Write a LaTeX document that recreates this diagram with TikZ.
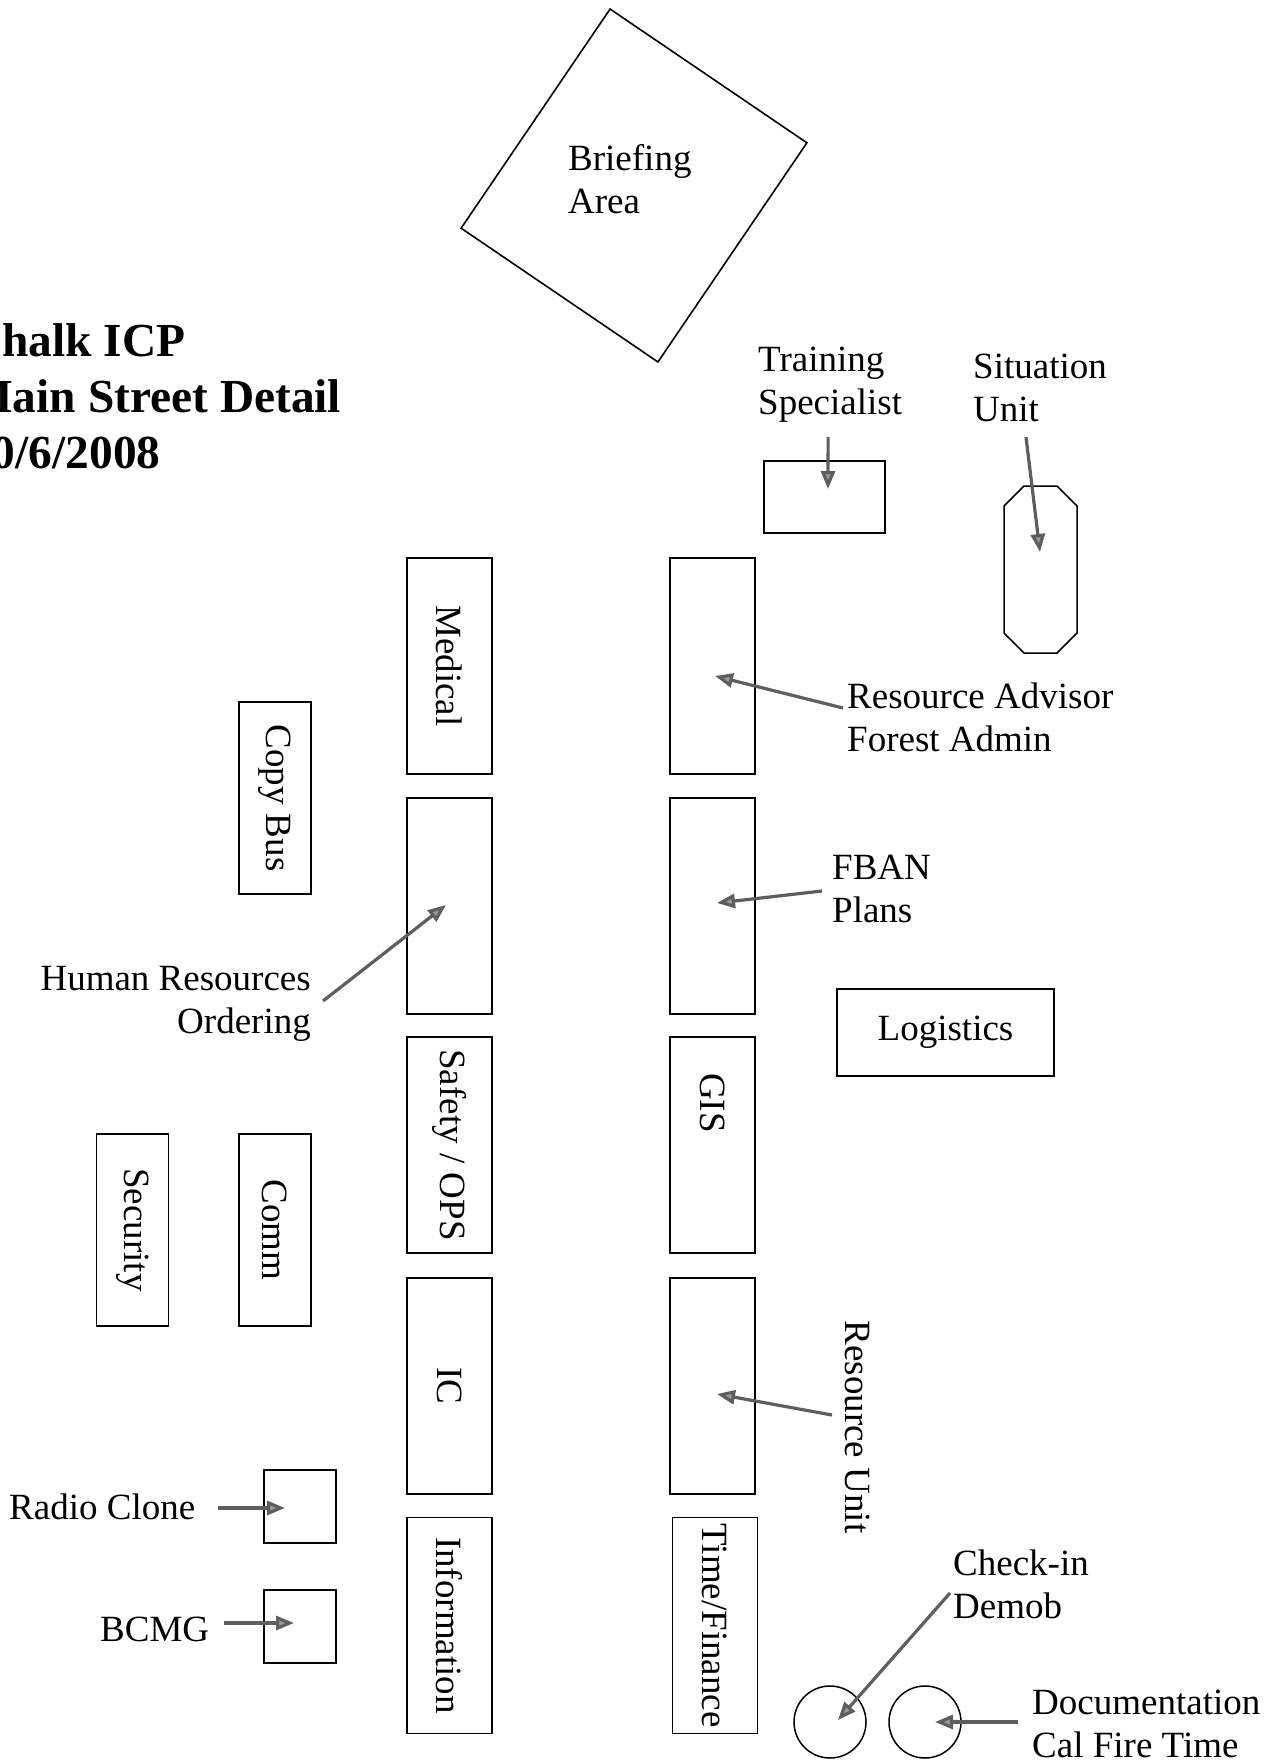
\documentclass[tikz,border=0pt]{standalone}
\usepackage{fontspec}
\setmainfont{Liberation Serif}
\usetikzlibrary{positioning,arrows.meta,calc}
\definecolor{PtrGray}{HTML}{5E5E5E}
\definecolor{PtrFill}{HTML}{999999}
\tikzset{
  stall/.style={draw, line width=1.5pt, rotate=-90, inner sep=0pt,
                minimum width=216pt, minimum height=85pt,
                font=\fontsize{37}{43}\selectfont},
  smallstall/.style={stall, minimum width=192pt, minimum height=72pt},
  booth/.style={draw, line width=1.5pt, minimum width=72pt, minimum height=73pt},
  desk/.style={draw, line width=1.5pt, inner sep=0pt,
               font=\fontsize{37}{43}\selectfont},
  tent/.style={draw, line width=1.5pt, circle, minimum size=72pt, inner sep=0pt},
  lbl/.style={align=left, inner sep=0pt, font=\fontsize{37}{43}\selectfont},
  pointer/.style={-{Triangle[length=18pt,width=14pt,fill=PtrFill]}, line width=3.2pt, PtrGray},
}

\begin{document}
\begin{tikzpicture}[x=1pt,y=-1pt]
  \useasboundingbox (0,0) rectangle (1278,1762);

  % title and briefing area
  \node[lbl, anchor=north west, font=\bfseries\fontsize{47.4}{56}\selectfont] (title) at (-32,323)
    {Chalk ICP\\Main Street Detail\\10/6/2008};
  \node[draw, line width=1.6pt, minimum width=238pt, minimum height=265pt, rotate=-34.2] (brief) at (634,185.5) {};
  \node[lbl, anchor=west] (brieftxt) at (568,179) {Briefing\\Area};

  % left row of trailers
  \node[stall] (medical) at (449.5,666) {Medical};
  \node[stall] (hr) at (449.5,906) {};
  \node[stall] (safety) at (449.5,1145) {Safety / OPS};
  \node[stall] (ic) at (449.5,1386) {IC};
  \node[stall] (info) at (449.5,1625.5) {Information};

  % right row of trailers
  \node[stall] (ra) at (712.5,666) {};
  \node[stall] (fban) at (712.5,906) {};
  \node[stall, align=left, text width=144pt] (gis) at (712.5,1145) {GIS};
  \node[stall] (ru) at (712.5,1386) {};
  \node[stall] (timefin) at (715,1625.5) {Time/Finance};

  % small units
  \node[smallstall] (copybus) at (275,798) {Copy Bus};
  \node[smallstall] (security) at (132.5,1230) {Security};
  \node[smallstall] (comm) at (275,1230) {Comm};
  \node[booth] (radio) at (300,1506.5) {};
  \node[booth] (bcmg) at (300,1626.5) {};
  \node[desk, minimum width=217pt, minimum height=87pt] (logi) at (945.5,1032.5) {Logistics};
  \node[desk, minimum width=121pt, minimum height=72pt] (train) at (824.5,497) {};
  \draw[line width=1.5pt] (1024,486) -- (1057,486) -- (1077,506) -- (1077,633)
    -- (1057,653) -- (1024,653) -- (1004,633) -- (1004,506) -- cycle;
  \coordinate (sittip) at (1040,552);
  \node[tent] (checkin) at (830,1722) {};
  \node[tent] (docu) at (925,1722) {};

  % labels
  \node[lbl, anchor=west] (trainlbl) at (758,385) {Training\\Specialist};
  \node[lbl, anchor=west] (sitlbl) at (973,388) {Situation\\Unit};
  \node[lbl, anchor=west] (ralbl) at (847,717) {Resource Advisor\\Forest Admin};
  \node[lbl, anchor=west] (fbanlbl) at (832,889) {FBAN\\Plans};
  \node[lbl, anchor=east, align=right] (hrlbl) at (311,1004) {Human Resources\\Ordering};
  \node[lbl, rotate=-90] (rulbl) at (858,1427) {Resource Unit};
  \node[lbl, anchor=west] (radiolbl) at (9,1507) {Radio Clone};
  \node[lbl, anchor=west] (bcmglbl) at (100,1629) {BCMG};
  \node[lbl, anchor=west] (checklbl) at (953,1584) {Check-in\\Demob};
  \node[lbl, anchor=west] (doclbl) at (1032,1724) {Documentation\\Cal Fire Time};

  % pointers
  \draw[pointer] ($(trainlbl.south)+(-2,14)$) -- ($(train.center)+(3.5,-8)$);
  \draw[pointer] ($(sitlbl.south)+(-14,15)$) -- (sittip);
  \draw[pointer] ($(ralbl.west)+(-4,-9)$) -- ($(ra.center)+(2.5,10)$);
  \draw[pointer] ($(fbanlbl.west)+(-10,2)$) -- ($(fban.center)+(4.5,-3)$);
  \draw[pointer] ($(hrlbl.east)+(12,-3)$) -- ($(hr.center)+(-3.5,-1)$);
  \draw[pointer] ($(rulbl.center)+(-26,-12)$) -- ($(ru.center)+(4.5,8)$);
  \draw[pointer] ($(radiolbl.east)+(23,1)$) -- ($(radio.center)+(-15,1.5)$);
  \draw[pointer] ($(bcmglbl.east)+(15,-6)$) -- ($(bcmg.center)+(-6,-3.5)$);
  \draw[pointer] ($(checklbl.west)+(-3,9)$) -- ($(checkin.center)+(8,-2)$);
  \draw[pointer] ($(doclbl.west)+(-14,-2)$) -- ($(docu.center)+(10,0)$);
\end{tikzpicture}
\end{document}
